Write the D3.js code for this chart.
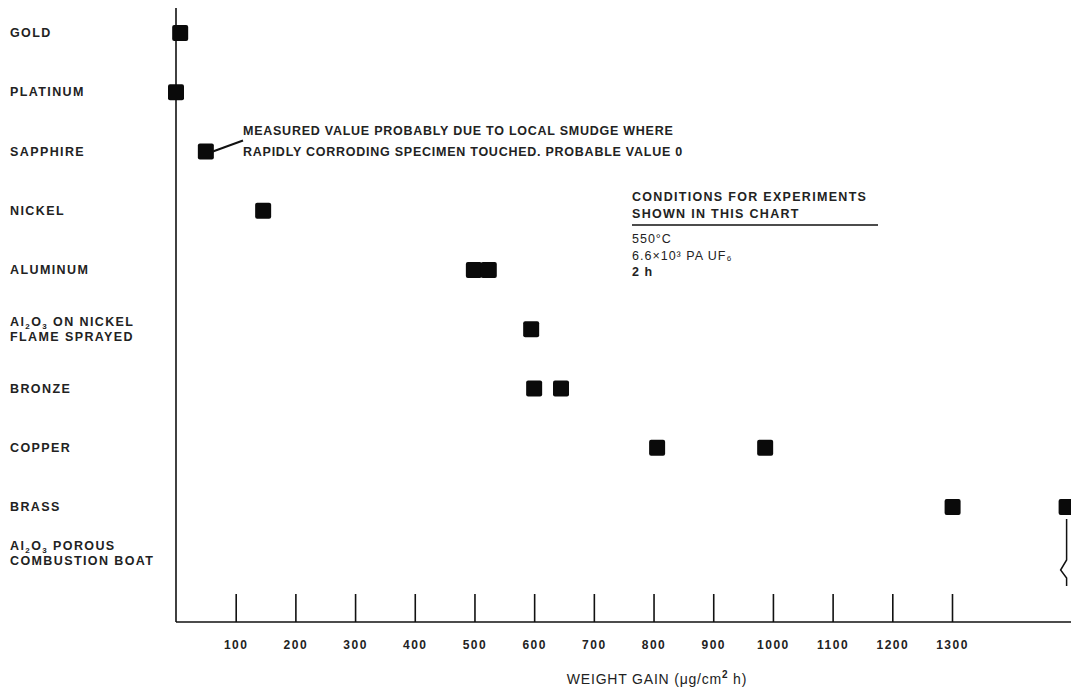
<!DOCTYPE html>
<html>
<head>
<meta charset="utf-8">
<script src="https://cdn.jsdelivr.net/npm/d3@7"></script>
<style>
  body { margin: 0; background: #fff; }
  svg { font-family: "Liberation Sans", Arial, sans-serif; }
</style>
</head>
<body>
<svg id="chart" width="1071" height="691"></svg>
<script>
// materials, top to bottom
const materials = ["GOLD", "PLATINUM", "SAPPHIRE", "NICKEL", "ALUMINUM",
  "AL2O3 NICKEL", "BRONZE", "COPPER", "BRASS", "AL2O3 BOAT"];
// weight gain readings per material (ug/cm2 h)
const gains = [[7], [0], [50], [146], [499, 524], [595], [600, 645], [806, 987], [1301, 1492], []];
const ticks = [100, 200, 300, 400, 500, 600, 700, 800, 900, 1000, 1100, 1200, 1300];
const conditions = ["550°C", "6.6×10³ PA UF₆", "2 h"];

const svg = d3.select("#chart");
const x = d3.scaleLinear().domain([0, 1300]).range([176, 952]);
const y = d3.scalePoint().domain(materials.slice(0, 9)).range([33, 507]);
const rowY = m => m === "AL2O3 BOAT" ? y("BRASS") + y.step() : y(m);
const baseY = 622;
const ink = "#111";

// y axis line
svg.append("line").attr("x1", x(0)).attr("x2", x(0)).attr("y1", 8).attr("y2", baseY)
  .attr("stroke", ink).attr("stroke-width", 1.6);

// x axis: baseline with upward ticks
const xAxis = svg.append("g").attr("transform", `translate(0,${baseY})`)
  .call(d3.axisBottom(x).tickValues(ticks).tickSize(-28).tickFormat(d3.format("d")));
xAxis.select(".domain").remove();
xAxis.selectAll(".tick line").attr("stroke", ink).attr("stroke-width", 1.6);
xAxis.selectAll(".tick text").attr("y", 18).attr("font-size", 12).attr("font-weight", "bold")
  .attr("letter-spacing", 1.5).attr("fill", "#222")
  .attr("font-family", "Liberation Sans, Arial, sans-serif");
svg.append("line").attr("x1", x(0)).attr("x2", 1071).attr("y1", baseY).attr("y2", baseY)
  .attr("stroke", ink).attr("stroke-width", 1.6);

// axis break mark beyond 1300
const bx = x(1492);
svg.append("path")
  .attr("d", `M${bx},${rowY("BRASS") + 12} L${bx},${baseY - 62} L${bx - 6},${baseY - 52} L${bx},${baseY - 44} L${bx},${baseY - 36}`)
  .attr("fill", "none").attr("stroke", ink).attr("stroke-width", 1.5);

svg.append("text").attr("x", 657).attr("y", 684).attr("text-anchor", "middle")
  .attr("font-size", 14).attr("letter-spacing", 0.8).attr("fill", "#222")
  .html('WEIGHT GAIN (μg/cm<tspan dy="-6" font-size="10" font-weight="bold">2</tspan><tspan dy="6"> h)</tspan>');

// category labels
const lab = svg.append("g").attr("font-size", 12.5).attr("font-weight", "bold")
  .attr("letter-spacing", 1.4).attr("fill", "#222");
materials.forEach(m => {
  const yy = rowY(m);
  if (m === "AL2O3 NICKEL" || m === "AL2O3 BOAT") {
    const top = m === "AL2O3 BOAT" ? yy - 16 : yy - 3;
    const t = lab.append("text").attr("x", 10).attr("y", top);
    t.append("tspan").text("Al");
    t.append("tspan").attr("dy", 3).attr("font-size", 8).text("2");
    t.append("tspan").attr("dy", -3).text("O");
    t.append("tspan").attr("dy", 3).attr("font-size", 8).text("3");
    t.append("tspan").attr("dy", -3).text(m === "AL2O3 BOAT" ? " POROUS" : " ON NICKEL");
    lab.append("text").attr("x", 10).attr("y", top + 15)
      .text(m === "AL2O3 BOAT" ? "COMBUSTION BOAT" : "FLAME SPRAYED");
  } else {
    lab.append("text").attr("x", 10).attr("y", yy + 4).text(m);
  }
});

// points
const pts = materials.flatMap((m, i) => gains[i].map(v => ({ m, v })));
svg.append("g").selectAll("rect").data(pts).join("rect")
  .attr("x", d => x(d.v) - 8).attr("y", d => rowY(d.m) - 8)
  .attr("width", 16).attr("height", 16).attr("rx", 2)
  .attr("fill", "#0a0a0a");

// sapphire annotation
const sy = rowY("SAPPHIRE");
svg.append("line").attr("x1", x(50) + 7).attr("y1", sy).attr("x2", 243).attr("y2", sy - 11)
  .attr("stroke", ink).attr("stroke-width", 2);
const note = svg.append("g").attr("font-size", 12.5).attr("font-weight", "bold")
  .attr("letter-spacing", 0.75).attr("fill", "#222");
note.append("text").attr("x", 243).attr("y", sy - 17).text("MEASURED VALUE PROBABLY DUE TO LOCAL SMUDGE WHERE");
note.append("text").attr("x", 243).attr("y", sy + 4).text("RAPIDLY CORRODING SPECIMEN TOUCHED.  PROBABLE VALUE 0");

// conditions box
const cond = svg.append("g").attr("font-size", 12.5).attr("font-weight", "bold")
  .attr("letter-spacing", 1.3).attr("fill", "#222");
cond.append("text").attr("x", 632).attr("y", 201).text("CONDITIONS FOR EXPERIMENTS");
cond.append("text").attr("x", 632).attr("y", 218).text("SHOWN IN THIS CHART");
svg.append("line").attr("x1", 632).attr("x2", 878).attr("y1", 225).attr("y2", 225)
  .attr("stroke", ink).attr("stroke-width", 1.3);
conditions.forEach((c, i) => {
  cond.append("text").attr("x", 632).attr("y", 243 + i * 16.5)
    .attr("font-weight", i === 2 ? "bold" : "normal").attr("letter-spacing", 1).text(c);
});
</script>
</body>
</html>
